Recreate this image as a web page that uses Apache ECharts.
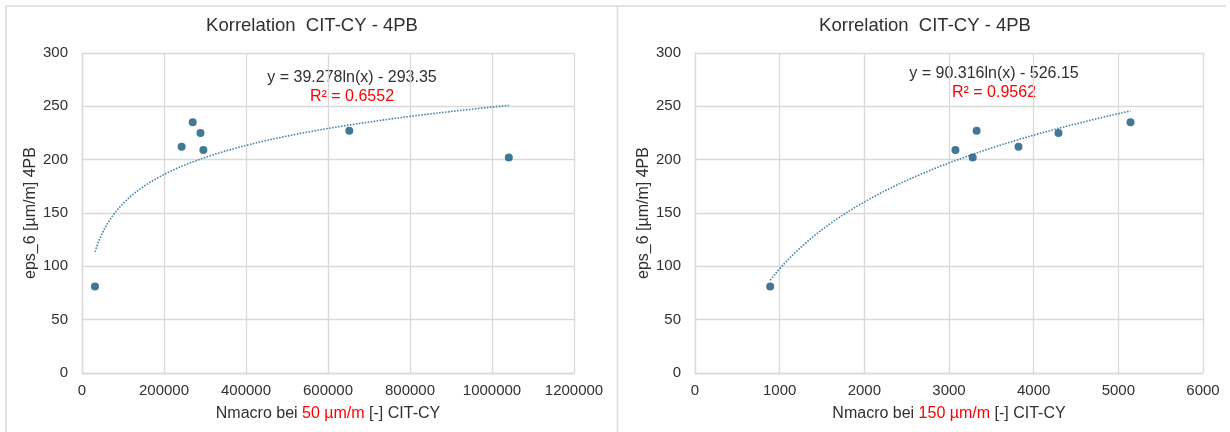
<!DOCTYPE html>
<html><head><meta charset="utf-8">
<script src="https://cdn.jsdelivr.net/npm/echarts@6/dist/echarts.min.js"></script>
<style>html,body{margin:0;padding:0;background:#fff}#c{width:1230px;height:432px}</style>
</head><body><div id="c"></div>
<script>
// ---- data ----
const titleText = 'Korrelation  CIT-CY - 4PB';
const leftX = [31600, 243000, 270000, 289000, 296000, 652000, 1041000];
const leftY = [81, 212, 235, 225, 209, 227, 202];
const rightX = [888, 3076, 3280, 3326, 3821, 4293, 5144];
const rightY = [81, 209, 202, 227, 212, 225, 235];
const leftFit = {a: 39.278, b: -293.35};
const rightFit = {a: 90.316, b: -526.15};
const leftEq = 'y = 39.278ln(x) - 293.35';
const leftR2 = 'R² = 0.6552';
const rightEq = 'y = 90.316ln(x) - 526.15';
const rightR2 = 'R² = 0.9562';
const yTicks = [0, 50, 100, 150, 200, 250, 300];
const leftXTicks = [0, 200000, 400000, 600000, 800000, 1000000, 1200000];
const rightXTicks = [0, 1000, 2000, 3000, 4000, 5000, 6000];
const yName = 'eps_6 [µm/m] 4PB';
const leftXName = ['Nmacro bei ', '50 µm/m', ' [-] CIT-CY'];
const rightXName = ['Nmacro bei ', '150 µm/m', ' [-] CIT-CY'];

function trend(xs, fit) {
  const lo = Math.min(...xs), hi = Math.max(...xs), n = 120, out = [];
  for (let i = 0; i <= n; i++) {
    const x = lo + (hi - lo) * i / n;
    out.push([x, fit.a * Math.log(x) + fit.b]);
  }
  return out;
}
const FONT = '"Liberation Sans", Arial, sans-serif';
const GRID = '#d9d9d9';
const TXT = '#303030';
const DOT = '#145679';
const LINE = '#3f80a3';

function xAxis(idx, ticks, nameParts) {
  return {
    type: 'value', gridIndex: idx, min: ticks[0], max: ticks[ticks.length - 1],
    interval: ticks[1] - ticks[0],
    axisLine: {lineStyle: {color: GRID, width: 1.3}}, axisTick: {show: false},
    splitLine: {lineStyle: {color: GRID, width: 1.3}},
    axisLabel: {color: TXT, fontSize: 15, fontFamily: FONT, margin: 10, formatter: v => String(v)},
    name: '{a|' + nameParts[0] + '}{r|' + nameParts[1] + '}{a|' + nameParts[2] + '}',
    nameLocation: 'middle', nameGap: 33,
    nameTextStyle: {fontFamily: FONT, rich: {
      a: {color: TXT, fontSize: 16, fontFamily: FONT},
      r: {color: '#ff0000', fontSize: 16, fontFamily: FONT}}}
  };
}
function yAxis(idx) {
  return {
    type: 'value', gridIndex: idx, min: yTicks[0], max: yTicks[yTicks.length - 1],
    interval: yTicks[1] - yTicks[0],
    axisLine: {show: true, lineStyle: {color: GRID, width: 1.3}}, axisTick: {show: false},
    splitLine: {lineStyle: {color: GRID, width: 1.3}},
    axisLabel: {color: TXT, fontSize: 15, fontFamily: FONT, margin: 14},
    name: yName, nameLocation: 'middle', nameGap: 42,
    nameTextStyle: {color: TXT, fontSize: 16, fontFamily: FONT}
  };
}
function txt(x, y, t, color, size) {
  return {type: 'text', x: x, y: y, style: {text: t, fill: color, font: size + 'px ' + FONT, textAlign: 'center', textVerticalAlign: 'middle'}};
}
function line(x1, y1, x2, y2) {
  return {type: 'line', shape: {x1: x1, y1: y1, x2: x2, y2: y2}, style: {stroke: GRID, lineWidth: 1.5}, silent: true};
}

const chart = echarts.init(document.getElementById('c'));
chart.setOption({
  animation: false,
  grid: [
    {left: 82, top: 53, width: 492, height: 320},
    {left: 695, top: 53, width: 508, height: 320}
  ],
  xAxis: [xAxis(0, leftXTicks, leftXName), xAxis(1, rightXTicks, rightXName)],
  yAxis: [yAxis(0), yAxis(1)],
  series: [
    {type: 'line', xAxisIndex: 0, yAxisIndex: 0, data: trend(leftX, leftFit), showSymbol: false, symbol: 'none',
     lineStyle: {color: LINE, width: 1.6, type: [1.5, 1.5]}, z: 2},
    {type: 'scatter', xAxisIndex: 0, yAxisIndex: 0, data: leftX.map((x, i) => [x, leftY[i]]), symbolSize: 8, itemStyle: {color: DOT}, z: 3},
    {type: 'line', xAxisIndex: 1, yAxisIndex: 1, data: trend(rightX, rightFit), showSymbol: false, symbol: 'none',
     lineStyle: {color: LINE, width: 1.6, type: [1.5, 1.5]}, z: 2},
    {type: 'scatter', xAxisIndex: 1, yAxisIndex: 1, data: rightX.map((x, i) => [x, rightY[i]]), symbolSize: 8, itemStyle: {color: DOT}, z: 3}
  ],
  graphic: [
    line(6, 6, 1226, 6),
    line(6, 6, 6, 432),
    line(617.5, 6, 617.5, 432),
    txt(312, 26, titleText, TXT, 18.5),
    txt(925, 26, titleText, TXT, 18.5),
    txt(352, 78, leftEq, TXT, 16),
    txt(352, 97, leftR2, '#ff0000', 16),
    txt(994, 74, rightEq, TXT, 16),
    txt(994, 93, rightR2, '#ff0000', 16)
  ]
});
</script></body></html>
